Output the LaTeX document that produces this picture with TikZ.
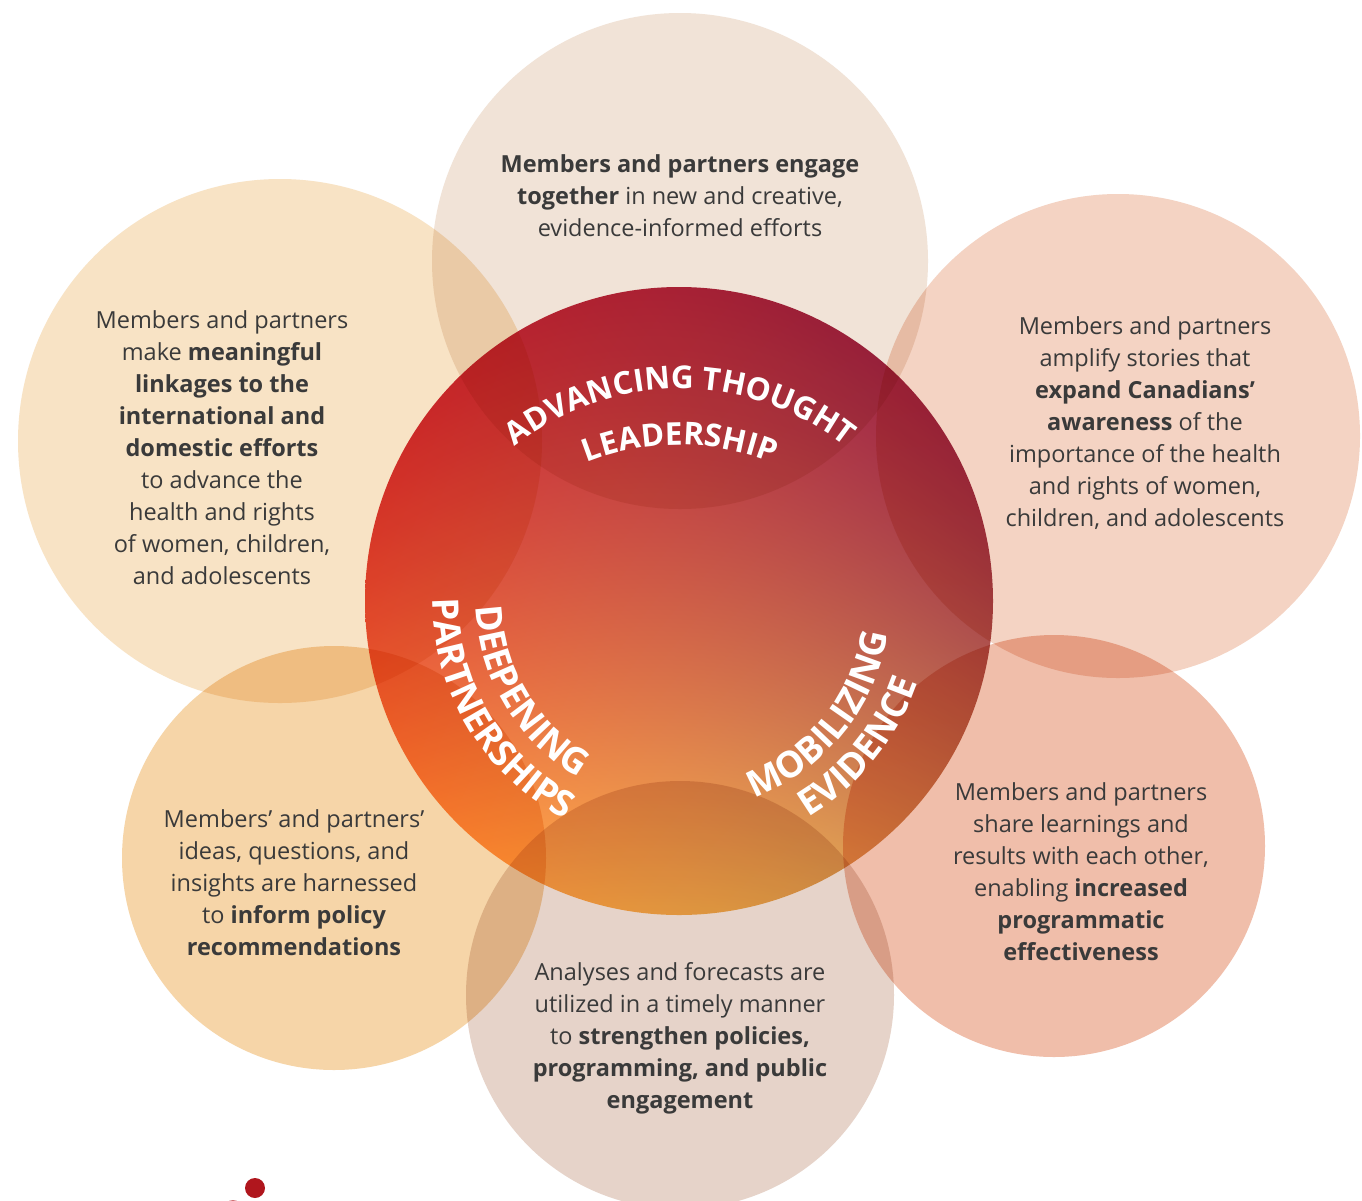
\documentclass[tikz,border=0pt]{standalone}
\usepackage{fontspec}
\setmainfont{Open Sans}
\usetikzlibrary{decorations.text}
\definecolor{txt}{HTML}{3A3A3A}
\definecolor{ptop}{HTML}{F1E3D7}
\definecolor{pul}{HTML}{F8E3C5}
\definecolor{pur}{HTML}{F4D3C3}
\definecolor{pll}{HTML}{F6D5A8}
\definecolor{pbot}{HTML}{E6D3C9}
\definecolor{plr}{HTML}{F0BEAA}
\definecolor{dotred}{HTML}{B0161D}
\pgfdeclarefunctionalshading{centralshade}{\pgfpoint{-50bp}{-50bp}}{\pgfpoint{50bp}{50bp}}{}{
  35.36 div exch 35.36 div exch
  2 copy
  dup dup mul 0.05 mul exch -0.20 mul add
  exch dup dup mul -0.06 mul exch -0.17 mul add
  add 0.81 add
  dup 1 gt {pop 1} if
  dup 0 lt {pop 0} if
  3 1 roll
  2 copy
  dup dup mul 0.12 mul exch -0.40 mul add
  exch dup dup mul -0.16 mul exch -0.02 mul add
  add 0.37 add
  dup 0 lt {pop 0} if
  dup 1 gt {pop 1} if
  3 1 roll
  -0.05 mul exch
  dup dup mul -0.05 mul exch 0.06 mul add
  add 0.28 add
  dup 0 lt {pop 0} if
  dup 1 gt {pop 1} if
}
\newcommand\bodyfont{\fontsize{23.5}{32}\selectfont}
\newcommand\curvefont{\fontsize{31.5}{32}\selectfont\bfseries\color{white}}
\newcommand\curvefontb{\fontsize{36.5}{38}\selectfont\bfseries\color{white}}
\tikzset{
  body/.style={font=\bodyfont, text=txt, align=center, inner sep=0pt},
  curved/.style={decorate, decoration={text along path, text align=center, text={|\curvefont|#1}}},
  curvedb/.style={decorate, decoration={text along path, text align=center, text={|\curvefontb|#1}}}
}
\begin{document}
\begin{tikzpicture}[x=1pt,y=1pt]
\clip (0,0) rectangle (1362,-1200);
\fill[white] (0,0) rectangle (1362,-1200);
\begin{scope}[blend mode=multiply]
  \fill[ptop] (680,-261) circle (248);
  \fill[pul] (280,-441) circle (262);
  \fill[pur] (1118,-436) circle (242);
  \fill[pll] (334,-858) circle (212);
  \fill[pbot] (680,-995) circle (214);
  \fill[plr] (1054,-846) circle (211);
  \shade[shading=centralshade] (679,-601) circle (314);
\end{scope}
% curved titles
\path[curved={ADVANCING THOUGHT}] (680,-655) ++(150:266) arc[start angle=150, end angle=30, radius=266];
\path[curved={LEADERSHIP}] (680,-695) ++(130:250) arc[start angle=130, end angle=50, radius=250];
\path[curvedb={DEEPENING}] (679,-601) ++(151:203) arc[start angle=151, end angle=271, radius=203];
\path[curvedb={PARTNERSHIPS}] (679,-601) ++(151:246) arc[start angle=151, end angle=271, radius=246];
\path[curvedb={MOBILIZING}] (679,-601) ++(261:211) arc[start angle=261, end angle=381, radius=211];
\path[curvedb={EVIDENCE}] (679,-601) ++(261:252) arc[start angle=261, end angle=381, radius=252];
% body texts
\node[body] (ttop) at (680,-196) {\textbf{Members and partners engage}\\\textbf{together} in new and creative,\\evidence-informed efforts};
\node[body] (tul) at (222,-448) {Members and partners\\make \textbf{meaningful}\\\textbf{linkages to the}\\\textbf{international and}\\\textbf{domestic efforts}\\to advance the\\health and rights\\of women, children,\\and adolescents};
\node[body] (tur) at (1145,-423) {Members and partners\\amplify stories that\\\textbf{expand Canadians’}\\\textbf{awareness} of the\\importance of the health\\and rights of women,\\children, and adolescents};
\node[body] (tll) at (294,-883) {Members’ and partners’\\ideas, questions, and\\insights are harnessed\\to \textbf{inform policy}\\\textbf{recommendations}};
\node[body] (tbot) at (680,-1038) {Analyses and forecasts are\\utilized in a timely manner\\to \textbf{strengthen policies,}\\\textbf{programming, and public}\\\textbf{engagement}};
\node[body] (tlr) at (1081,-872) {Members and partners\\share learnings and\\results with each other,\\enabling \textbf{increased}\\\textbf{programmatic}\\\textbf{effectiveness}};
% small dots at bottom left
\fill[dotred] (255,-1188) circle (10);
\fill[dotred!60] (233,-1209) circle (9);
\end{tikzpicture}
\end{document}
